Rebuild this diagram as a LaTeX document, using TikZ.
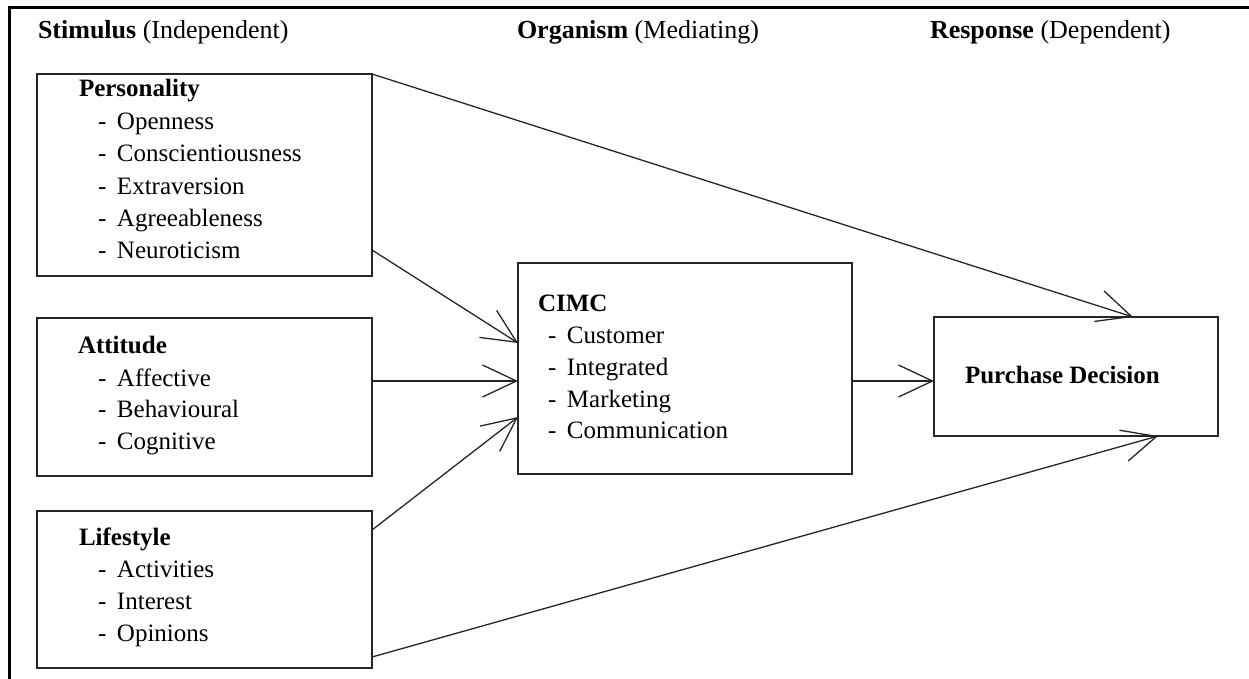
\documentclass[tikz,border=0pt]{standalone}
\usepackage{fontspec}
\setmainfont{Liberation Serif}
\usetikzlibrary{arrows.meta,calc}
\begin{document}
\begin{tikzpicture}[x=1pt,y=-1pt,
  box/.style={draw=black!85, line width=1.6pt, anchor=north west, outer sep=0pt, inner sep=0pt},
  txt/.style={anchor=base west, inner sep=0pt, outer sep=0pt, font=\fontsize{25}{30}\selectfont},
  hdr/.style={txt, font=\fontsize{26}{30}\selectfont},
  conn/.style={draw=black!85, line width=1.3pt, -{Straight Barb[length=34pt,width=32pt]}}
]
\useasboundingbox (0,0) rectangle (1249,679);
\newcommand{\itm}[1]{\makebox[19pt][l]{-}#1}
% frame
\draw[line width=3pt] (9,679) -- (9,8) -- (1249,8);
% headers
\node[hdr] (h1) at (38,39) {\textbf{Stimulus} (Independent)};
\node[hdr] (h2) at (517,39) {\textbf{Organism} (Mediating)};
\node[hdr] (h3) at (930,39) {\textbf{Response} (Dependent)};
% boxes
\node[box, minimum width=335pt, minimum height=202pt] (pers) at (37,74) {};
\node[box, minimum width=335pt, minimum height=158pt] (att) at (37,318) {};
\node[box, minimum width=335pt, minimum height=157pt] (lif) at (37,511) {};
\node[box, minimum width=334pt, minimum height=211pt] (cimc) at (518,263) {};
\node[box, minimum width=284pt, minimum height=119pt] (pd) at (934,317) {};
% personality text
\node[txt] (p0) at (79,97) {\textbf{Personality}};
\node[txt] (p1) at (98,130) {\itm{Openness}};
\node[txt] (p2) at (98,162) {\itm{Conscientiousness}};
\node[txt] (p3) at (98,194) {\itm{Extraversion}};
\node[txt] (p4) at (98,226) {\itm{Agreeableness}};
\node[txt] (p5) at (98,258) {\itm{Neuroticism}};
% attitude text
\node[txt] (a0) at (78,353) {\textbf{Attitude}};
\node[txt] (a1) at (98,386) {\itm{Affective}};
\node[txt] (a2) at (98,417) {\itm{Behavioural}};
\node[txt] (a3) at (98,449) {\itm{Cognitive}};
% lifestyle text
\node[txt] (l0) at (79,545) {\textbf{Lifestyle}};
\node[txt] (l1) at (98,577) {\itm{Activities}};
\node[txt] (l2) at (98,609) {\itm{Interest}};
\node[txt] (l3) at (98,641) {\itm{Opinions}};
% CIMC text
\node[txt] (c0) at (538,311) {\textbf{CIMC}};
\node[txt] (c1) at (548,343) {\itm{Customer}};
\node[txt] (c2) at (548,375) {\itm{Integrated}};
\node[txt] (c3) at (548,407) {\itm{Marketing}};
\node[txt] (c4) at (548,438) {\itm{Communication}};
% purchase decision
\node[txt] (pdt) at (965,383) {\textbf{Purchase Decision}};
% connectors
\draw[conn] (pers.north east) -- ($(pd.north west)+(199,0)$);
\draw[conn] ($(pers.south east)+(0,-26)$) -- ($(cimc.north west)+(0,80)$);
\draw[conn] ($(att.north east)+(0,63)$) -- ($(cimc.north west)+(0,118)$);
\draw[conn] ($(lif.north east)+(0,19)$) -- ($(cimc.north west)+(0,154)$);
\draw[conn] ($(cimc.north east)+(0,118)$) -- ($(pd.north west)+(0,64)$);
\draw[conn] ($(lif.south east)+(0,-11)$) -- ($(pd.south west)+(224,0)$);
\end{tikzpicture}
\end{document}
